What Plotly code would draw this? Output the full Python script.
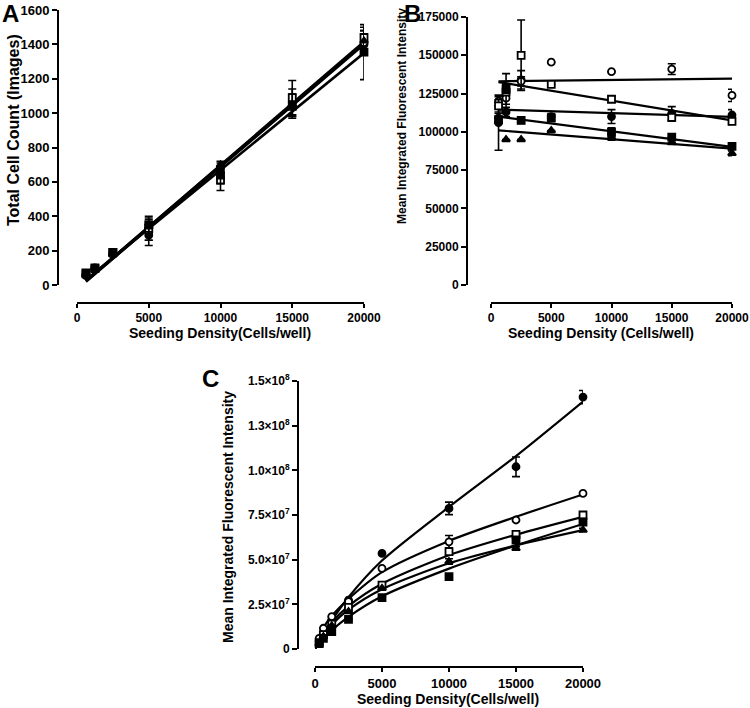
import plotly.graph_objects as go

W, H = 750, 708
FONT = "Liberation Sans"

# ---------------- data ----------------
dens = [625, 1250, 2500, 5000, 10000, 15000, 20000]
fit_x = [625, 20000]

# Panel A: total cell count
a_fc = [55, 95, 180, 290, 680, 1040, 1400]
a_fc_err = [8, 8, 15, 60, 30, 60, 60]
a_oc = [60, 100, 185, 310, 650, 1060, 1410]
a_oc_err = [5, 5, 10, 50, 40, 80, 70]
a_os = [70, 100, 190, 330, 610, 1090, 1440]
a_os_err = [5, 5, 12, 70, 60, 100, 60]
a_fs = [65, 95, 190, 350, 640, 1040, 1355]
a_fs_err = [5, 5, 10, 40, 50, 70, 160]
a_tr = [60, 95, 180, 340, 700, 1050, 1420]
a_tr_err = [5, 5, 10, 40, 20, 60, 60]
a_fit_fc = [20, 1400]
a_fit_oc = [25, 1410]
a_fit_os = [25, 1415]
a_fit_fs = [30, 1350]
a_fit_tr = [20, 1405]

# Panel B: mean integrated fluorescent intensity per cell
b_oc = [120000, 122000, 133000, 145500, 139300, 141000, 123800]
b_oc_err = [3000, 4000, 3000, 0, 0, 3500, 4000]
b_os = [117000, 126000, 150000, 131000, 121300, 109500, 106800]
b_os_err = [4000, 12000, 23000, 0, 2000, 2500, 2000]
b_fc = [106000, 113000, 134000, 110000, 110000, 112000, 111000]
b_fc_err = [18000, 3000, 6000, 2000, 4500, 4500, 3500]
b_fs = [108000, 128000, 107500, 109000, 99600, 96500, 90500]
b_fs_err = [2000, 3000, 2000, 2000, 3000, 0, 1500]
b_tr = [110000, 95000, 95000, 100900, 96500, 93000, 86000]
b_tr_err = [2000, 0, 0, 0, 2000, 0, 1500]
b_fit_oc = [133000, 134800]
b_fit_os = [132500, 107500]
b_fit_fc = [114500, 109800]
b_fit_fs = [110000, 90200]
b_fit_tr = [101000, 89000]

# Panel C: total integrated fluorescent intensity
c_dens = [312, 625, 1250, 2500, 5000, 10000, 15000, 20000]
c_fc = [4.0e6, 9.0e6, 1.6e7, 2.74e7, 5.35e7, 7.87e7, 1.02e8, 1.41e8]
c_fc_err = [0, 0, 0, 0, 0, 3.5e6, 5.5e6, 3.7e6]
c_oc = [6.0e6, 1.16e7, 1.81e7, 2.65e7, 4.51e7, 6.0e7, 7.22e7, 8.71e7]
c_oc_err = [0, 0, 0, 0, 0, 3.5e6, 0, 0]
c_os = [3.5e6, 8.0e6, 1.4e7, 2.33e7, 3.58e7, 5.45e7, 6.42e7, 7.5e7]
c_os_err = [0, 0, 0, 0, 0, 2.0e6, 0, 1.5e6]
c_fs = [3.0e6, 6.0e6, 9.7e6, 1.66e7, 2.87e7, 4.05e7, 6.1e7, 7.1e7]
c_fs_err = [0, 0, 0, 0, 0, 0, 0, 0]
c_tr = [3.0e6, 7.0e6, 1.3e7, 2.1e7, 3.4e7, 4.9e7, 5.63e7, 6.66e7]
c_tr_err = [0, 0, 0, 0, 0, 1.5e6, 1.0e6, 1.0e6]
c_curve_x = [0, 156, 312, 625, 1250, 2500, 5000, 10000, 15000, 20000]
c_curve_fc = [0, 2.5e6, 4.5e6, 8.5e6, 1.6e7, 2.9e7, 4.95e7, 7.95e7, 1.08e8, 1.385e8]
c_curve_oc = [0, 5.0e6, 7.5e6, 1.2e7, 1.85e7, 2.8e7, 4.3e7, 6.05e7, 7.4e7, 8.65e7]
c_curve_os = [0, 3.5e6, 5.5e6, 9.0e6, 1.5e7, 2.4e7, 3.65e7, 5.25e7, 6.4e7, 7.4e7]
c_curve_tr = [0, 3.0e6, 5.0e6, 8.0e6, 1.35e7, 2.2e7, 3.35e7, 4.8e7, 5.8e7, 6.65e7]
c_curve_fs = [0, 2.0e6, 3.5e6, 6.0e6, 1.05e7, 1.8e7, 2.95e7, 4.5e7, 5.8e7, 7.0e7]

x_ticks = [0, 5000, 10000, 15000, 20000]
a_yticks = [0, 200, 400, 600, 800, 1000, 1200, 1400, 1600]
b_yticks = [0, 25000, 50000, 75000, 100000, 125000, 150000, 175000]
c_yticks = [0, 2.5e7, 5.0e7, 7.5e7, 1.0e8, 1.25e8, 1.5e8]
c_yticktext = ["0", "2.5×10<sup>7</sup>", "5.0×10<sup>7</sup>", "7.5×10<sup>7</sup>",
               "1.0×10<sup>8</sup>", "1.3×10<sup>8</sup>", "1.5×10<sup>8</sup>"]

# marker styles: (symbol, fill)
styles = {
    "fc": ("circle", "black"),
    "oc": ("circle", "white"),
    "os": ("square", "white"),
    "fs": ("square", "black"),
    "tr": ("triangle-up", "black"),
}

fig = go.Figure()


def add_panel(xa, ya, xs, series, fits, fit_xs, lw, msize, spline=False):
    for key, (xv, yv) in fits.items():
        fig.add_trace(go.Scatter(
            x=xv if xv is not None else fit_xs, y=yv, mode="lines",
            line=dict(color="black", width=lw, shape="spline" if spline else "linear",
                      smoothing=0.8),
            xaxis=xa, yaxis=ya, showlegend=False, hoverinfo="skip", cliponaxis=False))
    for key, (yv, ev) in series.items():
        sym, fill = styles[key]
        fig.add_trace(go.Scatter(
            x=xs, y=yv, mode="markers",
            marker=dict(symbol=sym, size=msize, color=fill,
                        line=dict(color="black", width=1.8)),
            error_y=dict(type="data", array=ev, visible=True, color="black",
                         thickness=1.6, width=4),
            xaxis=xa, yaxis=ya, showlegend=False, cliponaxis=False))


add_panel("x", "y", dens,
          {"fc": (a_fc, a_fc_err), "oc": (a_oc, a_oc_err), "os": (a_os, a_os_err),
           "fs": (a_fs, a_fs_err), "tr": (a_tr, a_tr_err)},
          {"fc": (None, a_fit_fc), "oc": (None, a_fit_oc), "os": (None, a_fit_os),
           "fs": (None, a_fit_fs), "tr": (None, a_fit_tr)},
          fit_x, 2.6, 7)

add_panel("x2", "y2", dens,
          {"fc": (b_fc, b_fc_err), "oc": (b_oc, b_oc_err), "os": (b_os, b_os_err),
           "fs": (b_fs, b_fs_err), "tr": (b_tr, b_tr_err)},
          {"fc": (None, b_fit_fc), "oc": (None, b_fit_oc), "os": (None, b_fit_os),
           "fs": (None, b_fit_fs), "tr": (None, b_fit_tr)},
          fit_x, 2.2, 7)

add_panel("x3", "y3", c_dens,
          {"fc": (c_fc, c_fc_err), "oc": (c_oc, c_oc_err), "os": (c_os, c_os_err),
           "fs": (c_fs, c_fs_err), "tr": (c_tr, c_tr_err)},
          {"fc": (c_curve_x, c_curve_fc), "oc": (c_curve_x, c_curve_oc),
           "os": (c_curve_x, c_curve_os), "fs": (c_curve_x, c_curve_fs),
           "tr": (c_curve_x, c_curve_tr)},
          c_curve_x, 2.2, 7, spline=True)


def xcfg(x0, x1, ypx, fs):
    return dict(domain=[x0 / W, x1 / W], anchor="free", position=1 - ypx / H,
                automargin=False,
                range=[0, 20000], tickmode="array", tickvals=x_ticks,
                ticktext=[str(v) for v in x_ticks],
                ticks="outside", ticklen=4, tickwidth=2, tickcolor="black",
                showline=True, linewidth=2, linecolor="black",
                showgrid=False, zeroline=False,
                tickfont=dict(family=FONT, size=fs, color="black", weight="bold"))


def ycfg(y0px, y1px, xpx, rng, vals, texts, fs):
    return dict(domain=[1 - y0px / H, 1 - y1px / H], anchor="free", position=xpx / W,
                automargin=False,
                range=rng, tickmode="array", tickvals=vals, ticktext=texts,
                ticks="outside", ticklen=5, tickwidth=2, tickcolor="black",
                showline=True, linewidth=2, linecolor="black",
                showgrid=False, zeroline=False,
                tickfont=dict(family=FONT, size=fs, color="black", weight="bold"))


fig.update_layout(
    template="none",
    width=W, height=H, margin=dict(l=0, r=0, t=0, b=0, autoexpand=False),
    paper_bgcolor="white", plot_bgcolor="white",
    xaxis=xcfg(77, 364, 303, 12),
    yaxis=ycfg(285, 10, 58, [0, 1600], a_yticks, [str(v) for v in a_yticks], 13),
    xaxis2=xcfg(491, 732, 303, 12),
    yaxis2=ycfg(285, 17, 467, [0, 175000], b_yticks, [str(v) for v in b_yticks], 12),
    xaxis3=xcfg(315, 583, 667, 13),
    yaxis3=ycfg(649, 381, 298, [0, 1.5e8], c_yticks, c_yticktext, 12),
)


def ann(text, xpx, ypx, size, angle=0):
    fig.add_annotation(text=text, x=xpx / W, y=1 - ypx / H, xref="paper", yref="paper",
                       showarrow=False, textangle=angle, xanchor="center", yanchor="middle",
                       font=dict(family=FONT, size=size, color="black", weight="bold"))


ann("Total Cell Count (Images)", 13, 130, 16, -90)
ann("Seeding Density(Cells/well)", 220, 333, 14)
ann("Mean Integrated Fluorescent Intensity", 402, 116, 12, -90)
ann("Seeding Density (Cells/well)", 601, 333, 14)
ann("Mean Integrated Fluorescent Intensity", 228, 517, 14, -90)
ann("Seeding Density(Cells/well)", 448, 699, 14)
ann("A", 10, 13, 24)
ann("B", 412, 13, 24)
ann("C", 210, 378, 24)

fig.write_html(
    "out.html",
    config={"displayModeBar": False},
    post_script="document.body.style.margin='0px';document.body.style.padding='0px';"
                "document.body.style.overflow='hidden';",
)
